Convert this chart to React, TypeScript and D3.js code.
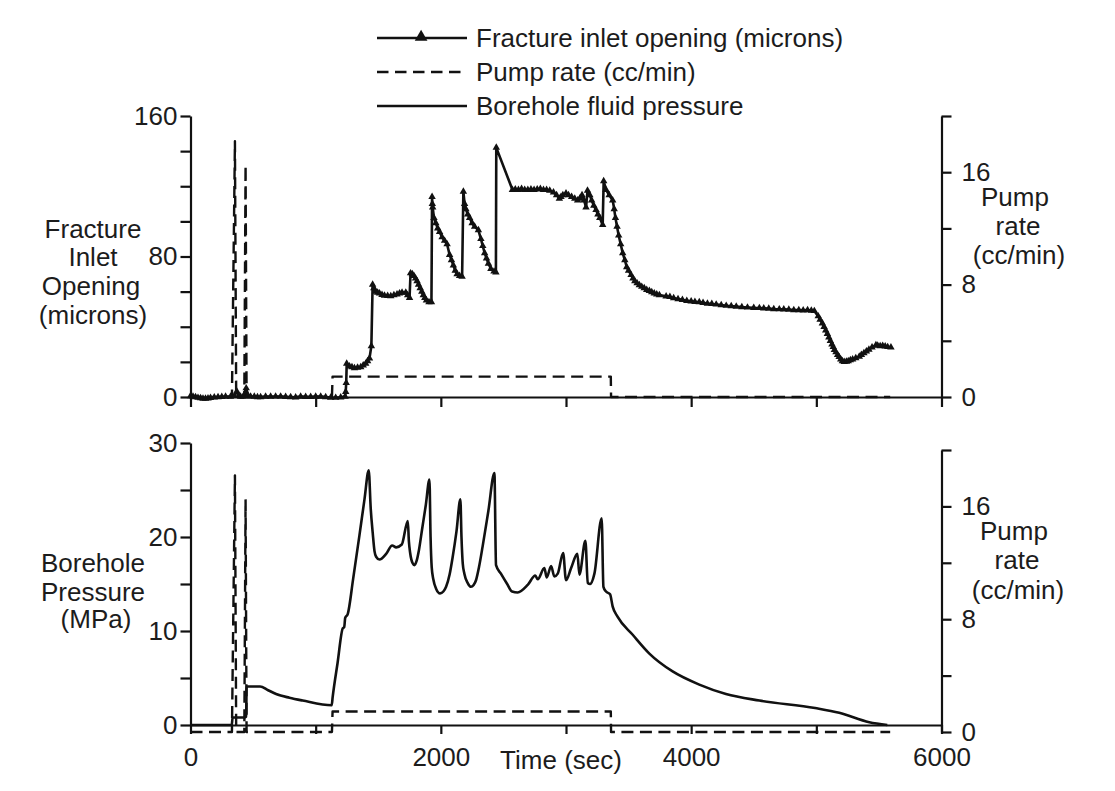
import React, { useEffect, useRef } from 'react';
import * as d3 from 'd3';

type Reading = [number, number]; // [seconds, value]

// fracture inlet opening (microns)
const opening: Reading[] = [
    [0, 0.5], [20, 0.3], [40, 0], [60, -0.4], [80, -0.6], [100, -0.9], [120, -0.9], [140, -0.7], [160, -0.5], [190, -0.2], [220, 0], [250, 0.1], [280, 0.2], [320, 0.2], [350, 0.6],
    [370, 3.2], [385, 0.8], [400, 0.2], [420, 0.2], [445, 5], [460, 0.8], [480, 0.3], [510, 0.2], [535, 0], [560, 0], [600, 0.2], [640, 0.2], [680, 0.3], [720, 0.3], [760, 0.1], [800, 0],
    [840, -0.2], [880, 0.2], [920, 0.1], [960, 0.1], [1000, 0.2], [1040, 0.2], [1080, 0], [1120, -0.3], [1160, -0.4], [1200, -0.2], [1235, 0.2],
    [1240, 3], [1244, 8], [1248, 19], [1270, 17.5], [1290, 17], [1310, 16.5], [1335, 16.8], [1360, 17], [1380, 18], [1400, 19], [1415, 20.5], [1430, 22], [1445, 29],
    [1455, 64], [1465, 62], [1478, 60], [1495, 59.5], [1510, 59], [1530, 58.2], [1550, 57.8], [1575, 57.6], [1600, 57.5], [1625, 58], [1650, 58.5], [1670, 59], [1690, 59.5], [1720, 59.5], [1735, 58], [1750, 56.5],
    [1758, 70.5], [1772, 70], [1785, 69], [1798, 67.5], [1810, 66], [1822, 64], [1835, 62], [1848, 60], [1860, 58], [1872, 56.5], [1885, 55], [1905, 54], [1925, 54],
    [1930, 114], [1932, 110], [1935, 108], [1945, 102], [1960, 99], [1975, 96], [1990, 94], [2010, 91], [2030, 89], [2050, 87], [2070, 81], [2085, 78], [2100, 75], [2115, 72], [2130, 70], [2150, 69], [2170, 68.5],
    [2180, 117], [2190, 110], [2200, 107], [2215, 104], [2230, 102], [2250, 99], [2270, 97], [2300, 95], [2320, 90], [2335, 86], [2350, 82], [2365, 79], [2380, 76], [2400, 73], [2425, 71.5], [2440, 71],
    [2443, 142], [2572, 118], [2595, 118.3], [2620, 118], [2645, 118.5], [2670, 118], [2695, 118], [2720, 118.2], [2745, 118], [2770, 118.3], [2795, 118.5], [2820, 118], [2845, 118], [2870, 117.5], [2900, 116.5], [2925, 115], [2947, 113],
    [2960, 114], [2975, 115], [3000, 116], [3020, 115], [3045, 114], [3070, 113], [3093, 112], [3110, 113], [3128, 115], [3145, 112], [3160, 108], [3172, 117.5], [3190, 115], [3205, 112], [3222, 109], [3240, 106.5], [3255, 104], [3270, 102], [3293, 98],
    [3301, 123], [3320, 118], [3345, 115], [3373, 112], [3385, 107], [3395, 102], [3408, 97], [3421, 92], [3437, 87], [3453, 82], [3470, 78], [3485, 74], [3500, 72], [3520, 69.5], [3535, 67.5], [3550, 66], [3568, 64.8], [3586, 63.7], [3605, 62.8], [3625, 62], [3645, 61], [3666, 60.5], [3685, 59.7], [3705, 59], [3725, 58.5], [3746, 58],
    [3800, 57.3], [3830, 57], [3860, 56.3], [3895, 55.8], [3930, 55.3], [3965, 54.8], [4000, 54.5], [4030, 54.2], [4065, 54], [4095, 53.6], [4130, 53.2], [4165, 53], [4200, 52.7], [4240, 52.3], [4280, 52], [4320, 51.8], [4360, 51.5], [4405, 51.2], [4450, 51], [4500, 50.8], [4545, 50.7],
    [4580, 50.5], [4620, 50.3], [4660, 50.1], [4704, 50], [4740, 49.9], [4780, 49.8], [4820, 49.5], [4860, 49.5], [4895, 49.3], [4930, 49.5], [4960, 49.2], [4984, 49],
    [5015, 46], [5030, 44], [5048, 42], [5062, 40], [5075, 38], [5088, 36], [5100, 34], [5112, 32], [5125, 30], [5135, 28.5], [5144, 26.8], [5157, 25.5], [5170, 24], [5182, 22.8], [5195, 21.5], [5208, 20.5], [5223, 20],
    [5240, 20.2], [5255, 20.5], [5272, 21], [5290, 21.5], [5315, 22.2], [5343, 23], [5360, 24], [5380, 25], [5400, 26], [5420, 27], [5445, 28.3], [5476, 29.6], [5490, 29.3], [5510, 29], [5530, 29.2], [5550, 28.8], [5570, 28.5], [5596, 28.3],
];

// borehole fluid pressure (MPa)
const pressure: Reading[] = [
    [0, 0], [330, 0], [336, 0.8], [350, 0.8], [380, 0.8], [430, 0.8], [445, 0.9], [448, 4.1], [556, 4.1], [620, 3.7], [684, 3.3], [790, 2.9], [896, 2.6], [1128, 2.1],
    [1136, 3], [1175, 6.6], [1217, 10.3], [1228, 10.4], [1236, 11.4], [1256, 11.8], [1300, 15.6], [1350, 20.2], [1390, 24], [1424, 27.1], [1440, 23], [1456, 20.4], [1470, 18.5], [1483, 17.9], [1510, 17.6], [1563, 18.2], [1611, 19.1], [1643, 18.9], [1688, 19.2], [1736, 21.7], [1745, 19.5], [1755, 18.3], [1775, 17.2], [1789, 17],
    [1805, 17.4], [1825, 18.6], [1850, 20.8], [1880, 23.4], [1909, 26.1], [1918, 20], [1927, 16.8], [1940, 15.5], [1962, 14.5], [1994, 14], [2020, 14.2], [2042, 14.7], [2070, 16], [2095, 17.9], [2125, 20.6], [2156, 24],
    [2165, 20], [2175, 17.2], [2188, 16.1], [2215, 15.1], [2241, 14.7], [2262, 14.9], [2281, 15.4], [2305, 16.8], [2334, 19], [2380, 22.8], [2428, 26.8], [2441, 17], [2480, 16.1], [2530, 15], [2569, 14.2], [2614, 14.1], [2694, 14.9], [2755, 15.9], [2774, 15.5], [2827, 16.7], [2846, 15.7], [2881, 16.9], [2907, 15.8], [2934, 16.1], [2977, 18.3], [3000, 15.4],
    [3041, 16.7], [3091, 18.2], [3107, 16], [3155, 19.6], [3174, 15.1], [3192, 15], [3227, 16.1], [3285, 22], [3299, 14.7], [3320, 14.2], [3352, 13.9], [3373, 12.6], [3413, 11.5], [3533, 9.6], [3666, 7.6], [3852, 5.7], [4065, 4.3], [4278, 3.3], [4545, 2.6], [4990, 1.8], [5183, 1.3], [5423, 0.3], [5567, 0],
];

// pump rate (cc/min)
const pump: Reading[] = [
    [0, 0], [331, 0], [355, 18.2], [365, 0], [430, 0], [440, 16.5], [448, 0], [1130, 0], [1135, 1.45], [3358, 1.45], [3360, 0], [5590, 0],
];

const legendLabels = ['Fracture inlet opening (microns)', 'Pump rate (cc/min)', 'Borehole fluid pressure'];
const openingTitle = ['Fracture', 'Inlet', 'Opening', '(microns)'];
const pressureTitle = ['Borehole', 'Pressure', '(MPa)'];
const pumpTitle = ['Pump', 'rate', '(cc/min)'];

const timeTicks = [0, 1000, 2000, 3000, 4000, 5000, 6000];
const timeLabels = [0, 2000, 4000, 6000];
const openingTicks = [0, 20, 40, 60, 80, 100, 120, 140, 160];
const openingLabels = [0, 80, 160];
const pressureTicks = [0, 5, 10, 15, 20, 25, 30];
const pressureLabels = [0, 10, 20, 30];
const pumpTicks = [0, 4, 8, 12, 16, 20];
const pumpLabels = [0, 8, 16];

const INK = '#111';
const FONT = '"Liberation Sans", Arial, sans-serif';
const TEXT = '#1c1c1c';
const FONT_SIZE = 26;

const App: React.FC = () => {
    const svgRef = useRef<SVGSVGElement | null>(null);

    useEffect(() => {
        const svg = d3.select(svgRef.current);
        svg.selectAll('*').remove();
        svg.style('font-family', FONT);

        const x = d3.scaleLinear().domain([0, 6000]).range([190.5, 941.5]);
        const yOpening = d3.scaleLinear().domain([0, 160]).range([397, 116]);
        const yPumpTop = d3.scaleLinear().domain([0, 20]).range([397, 116]);
        const yPressure = d3.scaleLinear().domain([0, 30]).range([725, 443]);
        const yPumpBottom = d3.scaleLinear().domain([0, 20]).range([732, 450]);

        const styleAxis = (g: any) => {
            g.selectAll('path,line').attr('stroke', INK).attr('stroke-width', 2.2);
            g.selectAll('text').attr('fill', TEXT).style('font-size', FONT_SIZE + 'px').style('font-family', FONT);
        };
        const labelIf = (labels: number[]) => (d: any) => labels.includes(+d) ? String(d) : '';

        // top panel axes
        svg.append('g').attr('transform', 'translate(0,397)')
            .call(d3.axisBottom(x).tickValues(timeTicks).tickSize(10).tickSizeOuter(0).tickFormat(() => ''))
            .call(styleAxis);
        svg.append('g').attr('transform', 'translate(190.5,0)')
            .call(d3.axisLeft(yOpening).tickValues(openingTicks).tickSize(10).tickSizeOuter(0).tickPadding(3).tickFormat(labelIf(openingLabels)))
            .call(styleAxis);
        svg.append('g').attr('transform', 'translate(941.5,0)')
            .call(d3.axisRight(yPumpTop).tickValues(pumpTicks).tickSize(10).tickSizeOuter(0).tickPadding(10).tickFormat(labelIf(pumpLabels)))
            .call(styleAxis);

        // bottom panel axes
        svg.append('g').attr('transform', 'translate(0,725)')
            .call(d3.axisBottom(x).tickValues(timeTicks).tickSize(9).tickSizeOuter(0).tickPadding(14).tickFormat(labelIf(timeLabels)))
            .call(styleAxis);
        svg.append('g').attr('transform', 'translate(190.5,0)')
            .call(d3.axisLeft(yPressure).tickValues(pressureTicks).tickSize(10).tickSizeOuter(0).tickPadding(3).tickFormat(labelIf(pressureLabels)))
            .call(styleAxis);
        svg.append('g').attr('transform', 'translate(941.5,0)')
            .call(d3.axisRight(yPumpBottom).tickValues(pumpTicks).tickSize(10).tickSizeOuter(0).tickPadding(10).tickFormat(labelIf(pumpLabels)))
            .call(styleAxis);

        // series
        const drawLine = (rows: Reading[], y: any, width: number, dash?: string, curve: any = d3.curveLinear) => {
            const line = d3.line<Reading>().x(d => x(d[0])).y(d => y(d[1])).curve(curve);
            svg.append('path')
                .attr('d', line(rows))
                .attr('fill', 'none')
                .attr('stroke', INK)
                .attr('stroke-width', width)
                .attr('stroke-linejoin', 'round')
                .attr('stroke-dasharray', dash ?? null);
        };
        const pumpDash = '12 6.5';
        drawLine(pump, yPumpTop, 2.4, pumpDash);
        drawLine(opening, yOpening, 2.6);
        const triangle = d3.symbol().type(d3.symbolTriangle).size(24);
        svg.append('g').selectAll('path')
            .data(opening)
            .join('path')
            .attr('d', triangle)
            .attr('transform', d => `translate(${x(d[0])},${yOpening(d[1])})`)
            .attr('fill', INK);

        drawLine(pump, yPumpBottom, 2.4, pumpDash);
        drawLine(pressure, yPressure, 2.6, undefined, d3.curveMonotoneX);

        // legend
        const legendRows = [38, 72, 106];
        const legendX = d3.scaleLinear().domain([0, 1]).range([377, 467]);
        legendRows.forEach((rowY, i) => {
            svg.append('line')
                .attr('x1', legendX(0)).attr('x2', legendX(1))
                .attr('y1', rowY).attr('y2', rowY)
                .attr('stroke', INK)
                .attr('stroke-width', 2.6)
                .attr('stroke-dasharray', i === 1 ? '11.5 6.5' : null);
            svg.append('text')
                .attr('x', 476).attr('y', rowY)
                .attr('dy', '0.35em')
                .attr('fill', TEXT)
                .style('font-size', FONT_SIZE + 'px')
                .text(legendLabels[i]);
        });
        svg.append('path')
            .attr('d', d3.symbol().type(d3.symbolTriangle).size(70))
            .attr('transform', `translate(${legendX(0.49)},${legendRows[0] - 1})`)
            .attr('fill', INK);

        // stacked axis titles
        const stacked = (lines: string[], centers: number[], rows: number[]) => {
            lines.forEach((t, i) => {
                svg.append('text')
                    .attr('x', centers[i]).attr('y', rows[i])
                    .attr('dy', '0.35em')
                    .attr('text-anchor', 'middle')
                    .attr('fill', TEXT)
                    .style('font-size', FONT_SIZE + 'px')
                    .text(t);
            });
        };
        stacked(openingTitle, [93, 93, 91, 93], [229, 257, 286, 315]);
        stacked(pressureTitle, [93, 93, 96], [563, 592, 619]);
        stacked(pumpTitle, [1015, 1018, 1019], [197, 226, 255]);
        stacked(pumpTitle, [1014, 1017, 1018], [531, 560, 590]);
        stacked(['Time (sec)'], [561], [760]);
    }, []);

    return <svg ref={svgRef} width={1115} height={791} style={{ position: 'absolute', left: 0, top: 0, background: '#fff' }} />;
};

export default App;
